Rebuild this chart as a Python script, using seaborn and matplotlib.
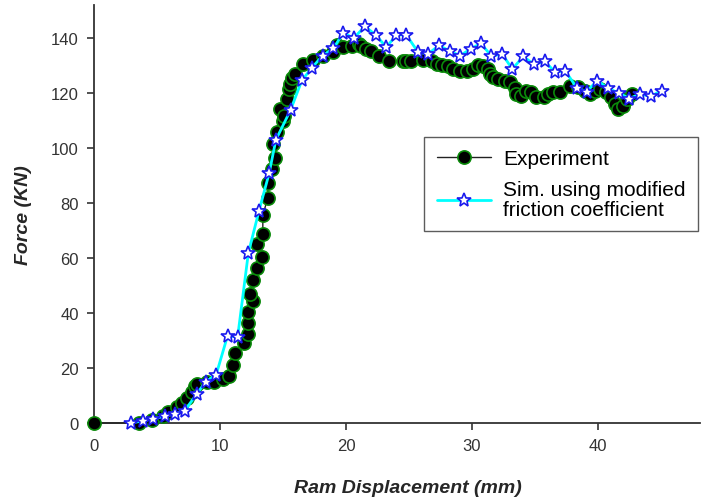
import matplotlib
matplotlib.use("Agg")
import matplotlib.pyplot as plt
import seaborn as sns
import pandas as pd

# Experiment data (Ram displacement mm, Force kN)
exp_x = [0, 3.6, 4.6, 5.5, 5.9, 6.56, 6.96, 7.35, 7.75, 8.0, 8.15, 8.94, 9.5, 10.26, 10.7,
         11.0, 11.2, 11.9, 12.2, 12.2, 12.2, 12.65, 12.4, 12.65, 12.9, 13.3, 12.9, 13.4, 13.4,
         13.8, 13.8, 14.1, 14.4, 14.2, 14.5, 14.76, 15.0, 15.1, 15.3, 15.5, 15.55, 15.7, 15.97,
         16.6, 17.4, 18.2, 19.0, 19.26, 19.8, 20.45, 21.0, 21.2, 21.6, 22.0, 22.6, 23.4,
         24.5, 24.8, 25.2, 26.1, 26.8, 27.2, 27.6, 28.1, 28.5, 29.05, 29.6, 30.1, 30.5, 30.9,
         31.3, 31.4, 31.7, 32.1, 32.6, 33.0, 33.4, 33.5, 33.9, 34.3, 34.7, 35.1, 35.7, 36.05,
         36.45, 37.0, 37.8, 38.4, 38.97, 39.4, 39.8, 40.2, 40.6, 41.0, 41.35, 41.6, 42.0,
         42.3, 42.7]
exp_y = [0, 0, 1.2, 2.7, 4.1, 5.7, 7.3, 9.0, 11.2, 13.3, 14.2, 14.8, 15.0, 16.0, 17.0,
         21.2, 25.5, 29.0, 32.5, 36.2, 40.2, 44.5, 46.9, 52.1, 56.5, 60.2, 65.2, 68.8, 75.5,
         82.0, 87.3, 92.4, 96.3, 101.5, 106.0, 114.2, 110.0, 111.8, 117.8, 121.5, 123.3, 125.3,
         126.9, 130.5, 132.0, 133.6, 134.9, 137.3, 136.6, 137.2, 137.8, 137.2, 136.0, 135.4,
         133.6, 131.8, 131.8, 131.8, 131.5, 132.1, 131.5, 130.5, 130.2, 130.0, 128.7, 128.1,
         128.1, 128.7, 130.2, 130.0, 128.7, 126.9, 125.7, 125.1, 124.5, 123.9, 122.0, 119.6,
         119.0, 120.9, 120.3, 118.5, 118.5, 119.6, 120.3, 120.3, 122.4, 122.1, 120.9, 119.6,
         120.9, 121.5, 120.3, 118.5, 116.1, 114.2, 115.4, 117.8, 119.6]

# Simulation using modified friction coefficient
sim_x = [2.94, 3.9, 4.7, 5.6, 6.4, 7.2, 8.15, 8.86, 9.7, 10.6, 11.4, 12.25, 13.1, 13.9,
         14.44, 15.6, 16.5, 17.3, 18.15, 19.0, 19.8, 20.6, 21.5, 22.4, 23.2, 24.0, 24.8,
         25.7, 26.5, 27.4, 28.25, 29.05, 29.9, 30.7, 31.55, 32.4, 33.2, 34.07, 34.9, 35.8,
         36.6, 37.4, 38.3, 39.1, 39.95, 40.8, 41.7, 42.5, 43.3, 44.2, 45.05]
sim_y = [0, 0.8, 1.5, 2.4, 3.3, 4.5, 10.5, 15.0, 17.6, 31.7, 31.2, 61.8, 77.2, 90.8,
         103.0, 113.8, 124.6, 129.2, 133.6, 136.2, 142.0, 139.9, 144.2, 141.0, 136.6, 141.1,
         141.1, 135.0, 134.2, 137.3, 135.2, 133.6, 136.0, 138.1, 133.4, 134.2, 128.7, 133.3,
         130.5, 131.5, 127.5, 128.1, 122.0, 120.5, 124.5, 121.7, 119.9, 118.0, 119.6, 118.8,
         120.9]

x_ticks = [0, 10, 20, 30, 40]
y_ticks = [0, 20, 40, 60, 80, 100, 120, 140]
label_exp = "Experiment"
label_sim = "Sim. using modified\nfriction coefficient"

sns.set_style("white")
plt.rcParams['font.family'] = ['Liberation Sans', 'DejaVu Sans']

fig = plt.figure(figsize=(7.01, 5.02), dpi=100)
ax = fig.add_axes([94/701, 1 - 424/502, 606/701, 418/502])

df_exp = pd.DataFrame({"x": exp_x, "y": exp_y})
df_sim = pd.DataFrame({"x": sim_x, "y": sim_y})

sns.lineplot(data=df_exp, x="x", y="y", sort=False, estimator=None, ax=ax,
             color="#222222", linewidth=1.0, marker="o", markersize=9.5,
             markerfacecolor="black", markeredgecolor="#0a8a0a", markeredgewidth=1.2,
             label=label_exp, clip_on=False, zorder=3)
sns.lineplot(data=df_sim, x="x", y="y", sort=False, estimator=None, ax=ax,
             color="#00ffff", linewidth=2.0, marker="*", markersize=10,
             markerfacecolor="white", markeredgecolor="#1a1aee", markeredgewidth=1.2,
             label=label_sim, clip_on=False, zorder=4)

ax.set_xlim(0, 48.1)
ax.set_ylim(0, 152)
ax.set_xticks(x_ticks)
ax.set_yticks(y_ticks)
for s in ["top", "right"]:
    ax.spines[s].set_visible(False)
for s in ["left", "bottom"]:
    ax.spines[s].set_color("#333333")
    ax.spines[s].set_linewidth(1.3)
ax.tick_params(axis="both", direction="out", length=5, width=1.2, color="#333333",
               labelsize=12, labelcolor="#333333", pad=6, left=True, bottom=True)

ax.set_xlabel("Ram Displacement (mm)", fontsize=14, fontweight="bold", fontstyle="italic")
ax.set_ylabel("Force (KN)", fontsize=14, fontweight="bold", fontstyle="italic")
ax.xaxis.set_label_coords((408 - 94) / 606, -(480 - 424) / 418)
ax.yaxis.set_label_coords(-(94 - 32) / 606, 0.5)

leg = ax.legend(loc="upper left", bbox_to_anchor=((424 - 94) / 606, (424 - 138) / 418),
                frameon=True, fancybox=False, shadow=False, fontsize=15,
                handlelength=2.6, borderpad=0.6, labelspacing=0.55, handletextpad=0.6,
                borderaxespad=0)
leg.get_frame().set_edgecolor("#333333")
leg.get_frame().set_linewidth(1.0)
for t in leg.get_texts():
    t.set_color("black")
    t.set_linespacing(1.05)

fig.savefig("out.png", dpi=100)
